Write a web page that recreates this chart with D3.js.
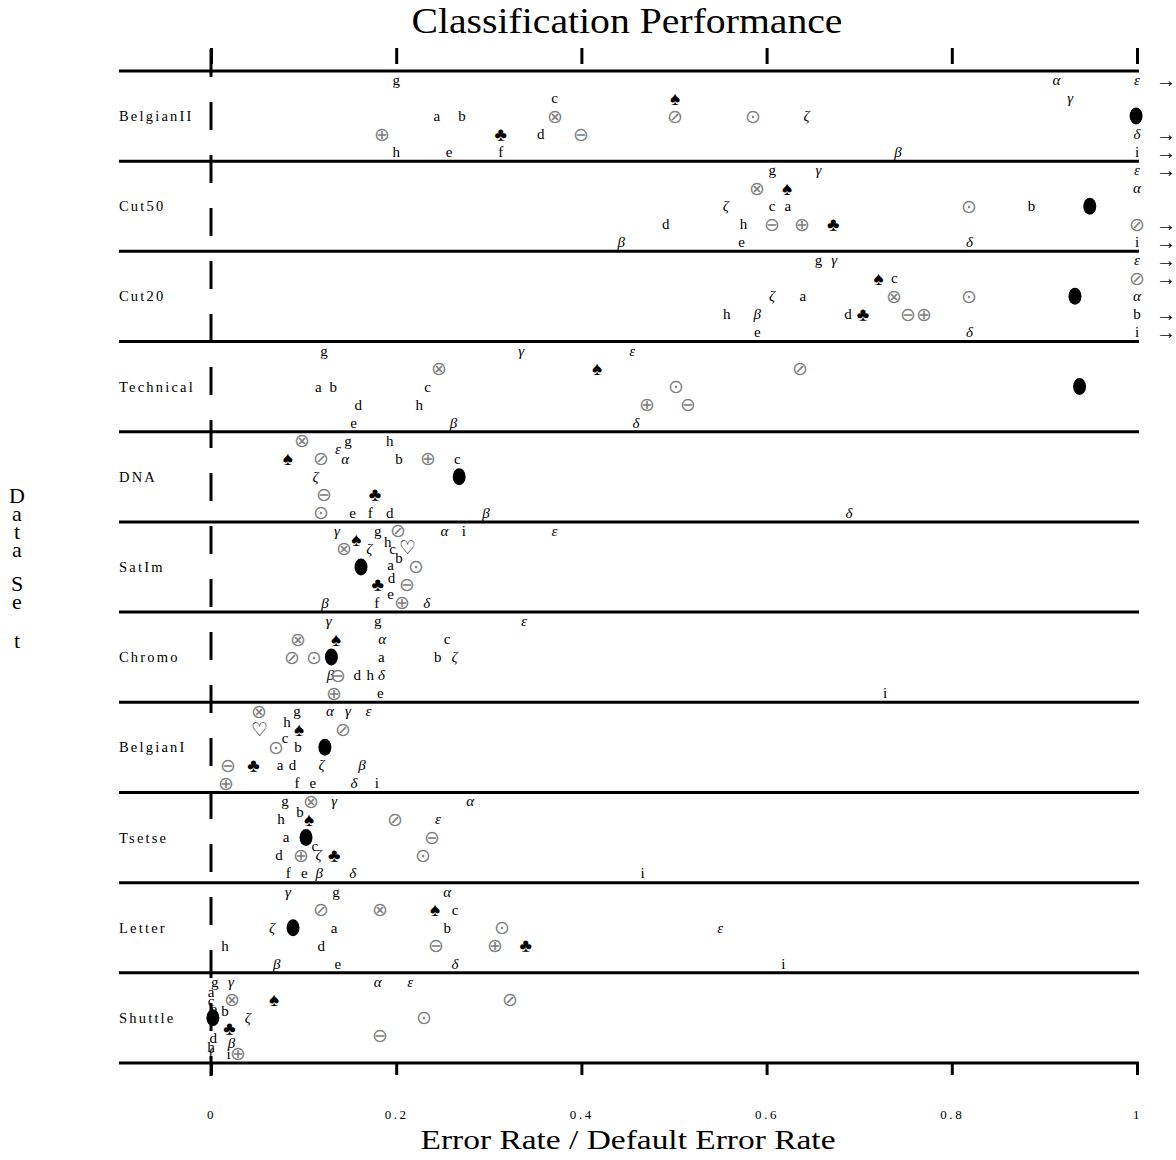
<!DOCTYPE html>
<html>
<head>
<meta charset="utf-8">
<script src="https://cdn.jsdelivr.net/npm/d3@7"></script>
<style>
  body { margin: 0; background: #fff; }
  text { font-family: "Times New Roman", "Liberation Serif", serif; }
</style>
</head>
<body>
<div class="chart"></div>
<script>
var fullWidth = 1176, fullHeight = 1160;

var datasets = ["BelgianII", "Cut50", "Cut20", "Technical", "DNA", "SatIm",
                "Chromo", "BelgianI", "Tsetse", "Letter", "Shuttle"];

var tickValues = [0, 0.2, 0.4, 0.6, 0.8, 1];
var tickLabels = ["0", "0.2", "0.4", "0.6", "0.8", "1"];

// [method symbol, error rate / default error rate, lane]   (values > 1 are off the scale)
var belgianII = [
  ["g", 0.200, 0], ["α", 0.913, 0], ["ε", 1.1, 0],
  ["c", 0.371, 1], ["♠", 0.501, 1], ["γ", 0.928, 1],
  ["a", 0.244, 2], ["b", 0.271, 2], ["⊗", 0.371, 2], ["⊘", 0.501, 2], ["⊙", 0.585, 2], ["ζ", 0.643, 2], ["●", 0.999, 2],
  ["⊕", 0.185, 3], ["♣", 0.313, 3], ["d", 0.356, 3], ["⊖", 0.400, 3], ["δ", 1.1, 3],
  ["h", 0.200, 4], ["e", 0.257, 4], ["f", 0.313, 4], ["β", 0.742, 4], ["i", 1.1, 4]
];
var cut50 = [
  ["g", 0.606, 0], ["γ", 0.656, 0], ["ε", 1.1, 0],
  ["⊗", 0.590, 1], ["♠", 0.622, 1], ["α", 1.0, 1],
  ["ζ", 0.556, 2], ["c", 0.606, 2], ["a", 0.623, 2], ["⊙", 0.819, 2], ["b", 0.886, 2], ["●", 0.949, 2],
  ["d", 0.491, 3], ["h", 0.575, 3], ["⊖", 0.606, 3], ["⊕", 0.638, 3], ["♣", 0.672, 3], ["⊘", 1.1, 3],
  ["β", 0.443, 4], ["e", 0.573, 4], ["δ", 0.819, 4], ["i", 1.1, 4]
];
var cut20 = [
  ["g", 0.656, 0], ["γ", 0.673, 0], ["ε", 1.1, 0],
  ["♠", 0.721, 1], ["c", 0.738, 1], ["⊘", 1.1, 1],
  ["ζ", 0.606, 2], ["a", 0.639, 2], ["⊗", 0.738, 2], ["⊙", 0.819, 2], ["●", 0.933, 2], ["α", 1.0, 2],
  ["h", 0.557, 3], ["β", 0.590, 3], ["d", 0.688, 3], ["♣", 0.704, 3], ["⊖", 0.753, 3], ["⊕", 0.770, 3], ["b", 1.1, 3],
  ["e", 0.590, 4], ["δ", 0.819, 4], ["i", 1.1, 4]
];
var technical = [
  ["g", 0.122, 0], ["γ", 0.335, 0], ["ε", 0.455, 0],
  ["⊗", 0.246, 1], ["♠", 0.417, 1], ["⊘", 0.636, 1],
  ["a", 0.116, 2], ["b", 0.132, 2], ["c", 0.234, 2], ["⊙", 0.502, 2], ["●", 0.938, 2],
  ["d", 0.159, 3], ["h", 0.225, 3], ["⊕", 0.471, 3], ["⊖", 0.515, 3],
  ["e", 0.154, 4], ["β", 0.262, 4], ["δ", 0.459, 4]
];
var dna = [
  ["⊗", 0.098, 0], ["g", 0.148, 0], ["h", 0.193, 0], ["ε", 0.137, 0.45],
  ["♠", 0.083, 1], ["⊘", 0.119, 1], ["α", 0.145, 1], ["b", 0.203, 1], ["⊕", 0.234, 1], ["c", 0.266, 1],
  ["ζ", 0.113, 2], ["●", 0.268, 2],
  ["⊖", 0.122, 3], ["♣", 0.177, 3],
  ["⊙", 0.119, 4], ["e", 0.153, 4], ["f", 0.172, 4], ["d", 0.193, 4], ["β", 0.297, 4], ["δ", 0.689, 4]
];
var satIm = [
  ["γ", 0.136, 0], ["g", 0.180, 0], ["⊘", 0.202, 0], ["α", 0.252, 0], ["i", 0.273, 0], ["ε", 0.371, 0],
  ["♠", 0.157, 0.5], ["h", 0.191, 0.6],
  ["⊗", 0.144, 1], ["ζ", 0.171, 1], ["c", 0.196, 1], ["♡", 0.212, 0.9], ["b", 0.203, 1.5],
  ["●", 0.162, 2], ["a", 0.194, 1.9], ["⊙", 0.221, 2], ["d", 0.195, 2.6],
  ["♣", 0.180, 3], ["⊖", 0.212, 3], ["e", 0.194, 3.5],
  ["β", 0.123, 4], ["f", 0.179, 4], ["⊕", 0.206, 4], ["δ", 0.233, 4]
];
var chromo = [
  ["γ", 0.127, 0], ["g", 0.180, 0], ["ε", 0.338, 0],
  ["⊗", 0.094, 1], ["♠", 0.135, 1], ["α", 0.185, 1], ["c", 0.255, 1],
  ["⊘", 0.087, 2], ["⊙", 0.111, 2], ["●", 0.130, 2], ["a", 0.184, 2], ["b", 0.245, 2], ["ζ", 0.263, 2],
  ["β", 0.129, 3], ["⊖", 0.137, 3], ["d", 0.158, 3], ["h", 0.172, 3], ["δ", 0.184, 3],
  ["⊕", 0.133, 4], ["e", 0.183, 4], ["i", 0.728, 4]
];
var belgianI = [
  ["⊗", 0.052, 0], ["g", 0.093, 0], ["α", 0.1285, 0], ["γ", 0.148, 0], ["ε", 0.170, 0],
  ["h", 0.082, 0.6],
  ["♡", 0.052, 1], ["♠", 0.095, 1], ["⊘", 0.143, 1],
  ["c", 0.080, 1.5],
  ["⊙", 0.070, 2], ["b", 0.094, 2], ["●", 0.123, 2],
  ["⊖", 0.018, 3], ["♣", 0.046, 3], ["a", 0.0745, 3], ["d", 0.088, 3], ["ζ", 0.1195, 3], ["β", 0.163, 3],
  ["⊕", 0.016, 4], ["f", 0.093, 4], ["e", 0.110, 4], ["δ", 0.1545, 4], ["i", 0.179, 4]
];
var tsetse = [
  ["g", 0.080, 0], ["⊗", 0.108, 0], ["γ", 0.133, 0], ["α", 0.280, 0],
  ["b", 0.096, 0.6],
  ["h", 0.0756, 1], ["♠", 0.106, 1], ["⊘", 0.199, 1], ["ε", 0.245, 1],
  ["a", 0.081, 2], ["●", 0.1026, 2], ["⊖", 0.239, 2],
  ["c", 0.112, 2.5],
  ["d", 0.0734, 3], ["⊕", 0.097, 3], ["ζ", 0.116, 3], ["♣", 0.133, 3], ["⊙", 0.229, 3],
  ["f", 0.0835, 4], ["e", 0.1008, 4], ["β", 0.117, 4], ["δ", 0.153, 4], ["i", 0.466, 4]
];
var letter = [
  ["γ", 0.083, 0], ["g", 0.135, 0], ["α", 0.255, 0],
  ["⊘", 0.119, 1], ["⊗", 0.1825, 1], ["♠", 0.242, 1], ["c", 0.2635, 1],
  ["ζ", 0.066, 2], ["●", 0.0886, 2], ["a", 0.133, 2], ["b", 0.255, 2], ["⊙", 0.314, 2], ["ε", 0.550, 2],
  ["h", 0.015, 3], ["d", 0.119, 3], ["⊖", 0.243, 3], ["⊕", 0.307, 3], ["♣", 0.340, 3],
  ["β", 0.071, 4], ["e", 0.137, 4], ["δ", 0.2635, 4], ["i", 0.618, 4]
];
var shuttle = [
  ["g", 0.004, 0], ["γ", 0.0216, 0], ["α", 0.180, 0], ["ε", 0.215, 0],
  ["a", 0.000, 0.55],
  ["c", 0.000, 1.05], ["⊗", 0.0223, 1], ["♠", 0.068, 1], ["⊘", 0.323, 1],
  ["e", 0.003, 1.5], ["b", 0.015, 1.6],
  ["●", 0.002, 2], ["ζ", 0.0396, 2], ["⊙", 0.230, 2],
  ["♣", 0.020, 2.6],
  ["⊖", 0.1825, 3], ["d", 0.0025, 3.1], ["β", 0.022, 3.4], ["h", 0.000, 3.6],
  ["f", 0.000, 4], ["i", 0.019, 4], ["⊕", 0.029, 4]
];

var rowData = [belgianII, cut50, cut20, technical, dna, satIm,
               chromo, belgianI, tsetse, letter, shuttle];

var greek = "αβγδεζ";
var circled = "⊗⊘⊙⊕⊖";
var suits = "♠♣♡";

var xScale = d3.scaleLinear().domain([0, 1]).range([211, 1137]);

var yBand = d3.scaleBand()
  .domain(datasets)
  .range([71, 1063])
  .paddingInner(0).paddingOuter(0);

var lane = d3.scaleLinear()
  .domain([0, 4])
  .range([9, 9 + 72]);

var svg = d3.select(".chart").append("svg")
  .attr("width", fullWidth)
  .attr("height", fullHeight);

// title
svg.append("text")
  .attr("x", 627).attr("y", 33)
  .attr("text-anchor", "middle")
  .attr("font-size", 35)
  .attr("textLength", 431)
  .attr("lengthAdjust", "spacingAndGlyphs")
  .text("Classification Performance");

// top ticks
svg.append("g")
  .attr("class", "xaxis-top")
  .attr("transform", "translate(0,64)")
  .call(d3.axisTop(xScale).tickValues(tickValues).tickSize(16).tickFormat(""))
  .call(function(g) { g.select(".domain").remove(); })
  .selectAll("line").attr("stroke-width", 3);

// bottom ticks and labels
svg.append("g")
  .attr("class", "xaxis-bottom")
  .attr("transform", "translate(0,1063)")
  .call(d3.axisBottom(xScale).tickValues(tickValues).tickSize(12).tickPadding(35)
          .tickFormat(function(d, i) { return tickLabels[i]; }))
  .call(function(g) { g.select(".domain").remove(); })
  .call(function(g) {
    g.selectAll("line").attr("stroke-width", 3);
    g.selectAll("text")
      .attr("font-family", "Times New Roman, Liberation Serif, serif")
      .attr("font-size", 13)
      .attr("letter-spacing", 2.6);
  });

// row separators
var bounds = datasets.map(function(d) { return yBand(d); }).concat([yBand.range()[1]]);
svg.append("g").selectAll("line")
  .data(bounds)
  .join("line")
  .attr("x1", 119).attr("x2", xScale(1) + 2)
  .attr("y1", function(d) { return d; })
  .attr("y2", function(d) { return d; })
  .attr("stroke", "#000")
  .attr("stroke-width", 3);

// dashed zero line
svg.append("line")
  .attr("x1", xScale(0)).attr("x2", xScale(0))
  .attr("y1", 49).attr("y2", 1076)
  .attr("stroke", "#000")
  .attr("stroke-width", 3)
  .attr("stroke-dasharray", "28,25");

// row labels
svg.append("g").selectAll("text")
  .data(datasets)
  .join("text")
  .attr("x", 119)
  .attr("y", function(d) { return yBand(d) + yBand.bandwidth() / 2 + 5; })
  .attr("font-size", 14.5)
  .attr("letter-spacing", 2.2)
  .text(function(d) { return d; });

// symbols
var rows = svg.append("g").selectAll("g")
  .data(datasets)
  .join("g")
  .attr("transform", function(d) { return "translate(0," + yBand(d) + ")"; });

rows.each(function(name, ri) {
  var g = d3.select(this);
  var pts = rowData[ri].map(function(p) {
    return { sym: p[0], v: Math.min(p[1], 1), off: p[1] > 1, lane: p[2] };
  });

  g.selectAll("ellipse")
    .data(pts.filter(function(p) { return p.sym === "●"; }))
    .join("ellipse")
    .attr("cx", function(p) { return xScale(p.v); })
    .attr("cy", function(p) { return lane(p.lane); })
    .attr("rx", 6.5).attr("ry", 8.5)
    .attr("fill", "#000");

  g.selectAll("text.sym")
    .data(pts.filter(function(p) { return p.sym !== "●"; }))
    .join("text")
    .attr("class", "sym")
    .attr("x", function(p) { return xScale(p.v); })
    .attr("y", function(p) { return lane(p.lane); })
    .attr("text-anchor", "middle")
    .attr("dominant-baseline", "central")
    .attr("font-family", function(p) {
      return (circled.indexOf(p.sym) >= 0 || suits.indexOf(p.sym) >= 0)
        ? "DejaVu Sans, sans-serif" : "Times New Roman, Liberation Serif, serif";
    })
    .attr("font-style", function(p) { return greek.indexOf(p.sym) >= 0 ? "italic" : "normal"; })
    .attr("font-size", function(p) {
      if (circled.indexOf(p.sym) >= 0) return 19;
      if (suits.indexOf(p.sym) >= 0) return 19;
      return 15;
    })
    .attr("fill", function(p) { return circled.indexOf(p.sym) >= 0 ? "#808080" : "#000"; })
    .text(function(p) { return p.sym; });

  g.selectAll("text.arrow")
    .data(pts.filter(function(p) { return p.off; }))
    .join("text")
    .attr("class", "arrow")
    .attr("x", xScale(1) + 29)
    .attr("y", function(p) { return lane(p.lane); })
    .attr("text-anchor", "middle")
    .attr("dominant-baseline", "central")
    .attr("font-family", "Times New Roman, Liberation Serif, serif")
    .attr("font-size", 20)
    .text("→");
});

// x label
svg.append("text")
  .attr("x", 628).attr("y", 1149)
  .attr("text-anchor", "middle")
  .attr("font-size", 28)
  .attr("textLength", 415)
  .attr("lengthAdjust", "spacingAndGlyphs")
  .text("Error Rate / Default Error Rate");

// y label, stacked letters
var yLabel = ["D", "a", "t", "a", "S", "e", "t"];
var yLabelPos = [495, 513, 531, 549, 583, 601, 640];
svg.append("g").selectAll("text")
  .data(yLabel)
  .join("text")
  .attr("x", 17)
  .attr("y", function(d, i) { return yLabelPos[i]; })
  .attr("text-anchor", "middle")
  .attr("dominant-baseline", "central")
  .attr("font-size", 22)
  .text(function(d) { return d; });
</script>
</body>
</html>
